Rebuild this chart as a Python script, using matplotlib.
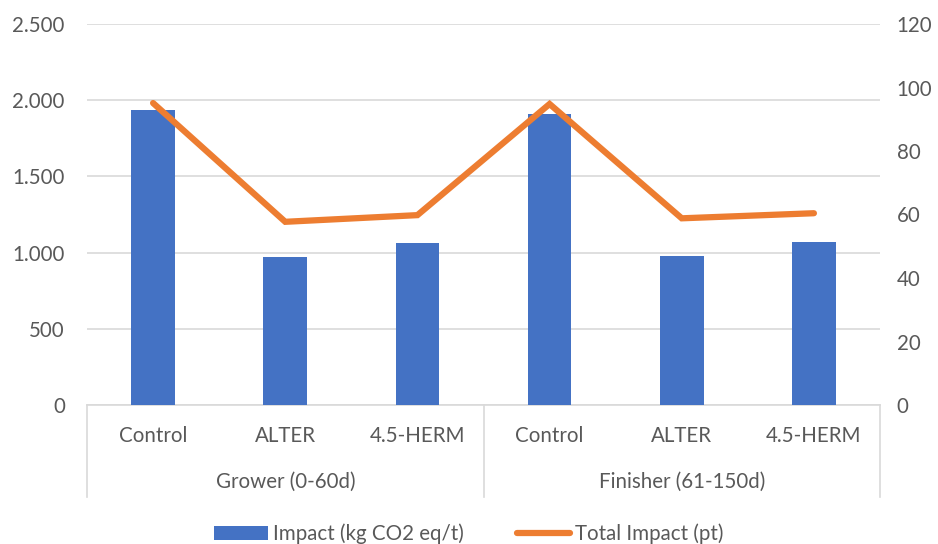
import matplotlib.pyplot as plt
from matplotlib.lines import Line2D
from matplotlib.patches import Patch
from matplotlib.ticker import FuncFormatter

# Data
categories = ["Control", "ALTER", "4.5-HERM", "Control", "ALTER", "4.5-HERM"]
groups = ["Grower (0-60d)", "Finisher (61-150d)"]
impact_kg = [1935, 970, 1063, 1909, 978, 1070]
total_impact_pt = [95.1, 57.7, 59.8, 94.8, 58.8, 60.4]

BLUE = "#4472C4"
ORANGE = "#ED7D31"
GRID = "#D9D9D9"
TEXT = "#595959"
FS = 14.8

plt.rcParams["font.family"] = ["Lato", "DejaVu Sans"]
plt.rcParams["font.size"] = FS

fig = plt.figure(figsize=(9.38, 5.44), dpi=100)
ax = fig.add_axes([87 / 938, 1 - 405 / 544, (880 - 87) / 938, (405 - 24) / 544])
ax2 = ax.twinx()

x = list(range(len(categories)))
ax.bar(x, impact_kg, width=0.33, color=BLUE, zorder=2)
ax2.plot(x, total_impact_pt, color=ORANGE, lw=4.5, solid_capstyle="round",
         solid_joinstyle="miter", zorder=3)

ax.set_xlim(-0.5, 5.5)
ax.set_ylim(0, 2500)
ax.set_yticks(range(0, 2501, 500))
ax.yaxis.set_major_formatter(FuncFormatter(lambda v, p: f"{int(v):,}".replace(",", ".")))
ax2.set_ylim(0, 120)
ax2.set_yticks(range(0, 121, 20))

ax.grid(axis="y", color=GRID, lw=1.2, zorder=0)
ax.set_axisbelow(True)
for a in (ax, ax2):
    for s in a.spines.values():
        s.set_visible(False)
    a.tick_params(length=0, colors=TEXT, labelsize=FS)
ax.tick_params(axis="y", pad=16)
ax2.tick_params(axis="y", pad=12)
ax.set_xticks([])

# Two-level category axis
xt = ax.get_xaxis_transform()
ax.plot([-0.5, 5.5], [0, 0], transform=xt, color=GRID, lw=1.2, clip_on=False, zorder=1)
sep_bottom = ((1 - 497 / 544) - (1 - 405 / 544)) / ((405 - 24) / 544)
for xs in (-0.5, 2.5, 5.5):
    ax.plot([xs, xs], [0, sep_bottom], transform=xt, color=GRID, lw=1.2, clip_on=False)

cat_y = ((1 - 436 / 544) - (1 - 405 / 544)) / ((405 - 24) / 544)
grp_y = ((1 - 482 / 544) - (1 - 405 / 544)) / ((405 - 24) / 544)
for xi, c in zip(x, categories):
    ax.text(xi, cat_y, c, transform=xt, ha="center", va="center", color=TEXT, fontsize=FS)
for gi, g in enumerate(groups):
    ax.text(1 + 3 * gi, grp_y, g, transform=xt, ha="center", va="center", color=TEXT, fontsize=FS)

handles = [Patch(facecolor=BLUE, edgecolor="none"),
           Line2D([0], [0], color=ORANGE, lw=4.5, solid_capstyle="round")]
labels = ["Impact (kg CO2 eq/t)", "Total Impact (pt)"]
fig.legend(handles, labels, loc="center", bbox_to_anchor=(0.5, 1 - 534 / 544), ncol=2,
           frameon=False, handlelength=2.6, handleheight=0.7, handletextpad=0.25,
           columnspacing=2.6, labelcolor=TEXT, fontsize=FS)

fig.savefig("out.png", dpi=100)
